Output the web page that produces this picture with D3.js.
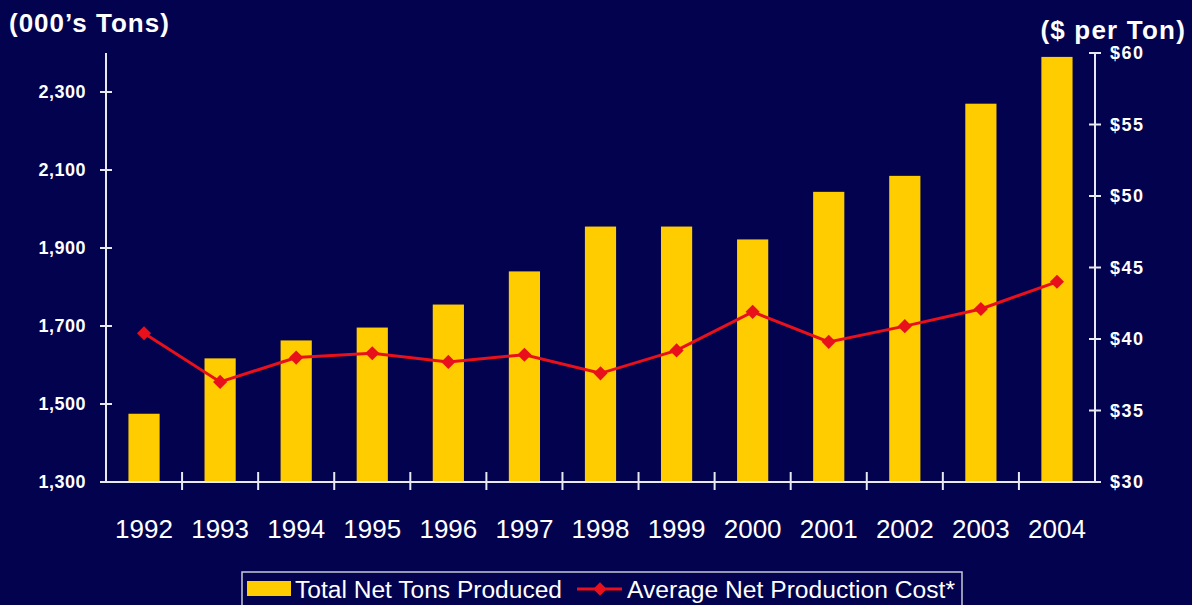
<!DOCTYPE html>
<html>
<head>
<meta charset="utf-8">
<script src="https://cdn.jsdelivr.net/npm/d3@7"></script>
<style>
  html, body { margin: 0; padding: 0; background: #02024f; }
  svg { display: block; }
  text { fill: #ffffff; font-family: Arial, "Liberation Sans", sans-serif; }
</style>
</head>
<body>
<svg id="chart" width="1192" height="605"></svg>
<script>
const years = ["1992", "1993", "1994", "1995", "1996", "1997", "1998", "1999", "2000", "2001", "2002", "2003", "2004"];
const tonsProduced = [1475, 1617, 1663, 1696, 1755, 1840, 1955, 1955, 1922, 2044, 2085, 2270, 2390];
const costPerTon = [40.4, 37.0, 38.7, 39.0, 38.4, 38.9, 37.6, 39.2, 41.9, 39.8, 40.9, 42.1, 44.0];
const leftTicks = [1300, 1500, 1700, 1900, 2100, 2300];
const rightTicks = [30, 35, 40, 45, 50, 55, 60];

const svg = d3.select("#chart");
const W = 1192, H = 605;
const plot = { left: 106, right: 1095, top: 53, bottom: 482 };

svg.append("rect").attr("width", W).attr("height", H).attr("fill", "#02024f");

const x = d3.scaleBand().domain(years).range([plot.left, plot.right]).paddingInner(0.59).paddingOuter(0.295);
const xBounds = d3.scaleLinear().domain([0, years.length]).range([plot.left, plot.right]);
const yLeft = d3.scaleLinear().domain([1300, 2400]).range([plot.bottom, plot.top]);
const yRight = d3.scaleLinear().domain([30, 60]).range([plot.bottom, plot.top]);

// bars
svg.append("g")
  .selectAll("rect")
  .data(years)
  .join("rect")
  .attr("x", (d) => x(d))
  .attr("width", x.bandwidth())
  .attr("y", (d, i) => yLeft(tonsProduced[i]))
  .attr("height", (d, i) => plot.bottom - yLeft(tonsProduced[i]))
  .attr("fill", "#ffcc00");

const axisColor = "#e8e8f0";

// left axis
const gl = svg.append("g");
gl.append("line").attr("x1", plot.left).attr("x2", plot.left).attr("y1", plot.top).attr("y2", plot.bottom)
  .attr("stroke", axisColor).attr("stroke-width", 2);
gl.selectAll(".t").data(leftTicks).join("line")
  .attr("x1", plot.left - 6).attr("x2", plot.left + 6)
  .attr("y1", (d) => yLeft(d)).attr("y2", (d) => yLeft(d))
  .attr("stroke", axisColor).attr("stroke-width", 2);
gl.selectAll("text").data(leftTicks).join("text")
  .attr("x", 86).attr("y", (d) => yLeft(d)).attr("dy", "0.36em")
  .attr("text-anchor", "end").attr("font-size", 18).attr("font-weight", "bold")
  .attr("letter-spacing", 0.5)
  .text((d) => d3.format(",")(d));

// right axis
const gr = svg.append("g");
gr.append("line").attr("x1", plot.right).attr("x2", plot.right).attr("y1", plot.top).attr("y2", plot.bottom)
  .attr("stroke", axisColor).attr("stroke-width", 2);
gr.selectAll(".t").data(rightTicks).join("line")
  .attr("x1", plot.right - 6).attr("x2", plot.right + 6)
  .attr("y1", (d) => yRight(d)).attr("y2", (d) => yRight(d))
  .attr("stroke", axisColor).attr("stroke-width", 2);
gr.selectAll("text").data(rightTicks).join("text")
  .attr("x", 1110).attr("y", (d) => yRight(d)).attr("dy", "0.36em")
  .attr("font-size", 18).attr("font-weight", "bold")
  .attr("letter-spacing", 1.5)
  .text((d) => "$" + d);

// x axis
const gx = svg.append("g");
gx.append("line").attr("x1", plot.left).attr("x2", plot.right).attr("y1", plot.bottom).attr("y2", plot.bottom)
  .attr("stroke", axisColor).attr("stroke-width", 2);
gx.selectAll(".t").data(d3.range(1, years.length)).join("line")
  .attr("x1", (d) => xBounds(d)).attr("x2", (d) => xBounds(d))
  .attr("y1", plot.bottom - 10).attr("y2", plot.bottom + 8)
  .attr("stroke", axisColor).attr("stroke-width", 2);
gx.selectAll("text").data(years).join("text")
  .attr("x", (d) => x(d) + x.bandwidth() / 2).attr("y", 538)
  .attr("text-anchor", "middle").attr("font-size", 26)
  .text((d) => d);

// cost line
const line = d3.line()
  .x((d, i) => x(years[i]) + x.bandwidth() / 2)
  .y((d) => yRight(d));
svg.append("path").datum(costPerTon)
  .attr("d", line).attr("fill", "none")
  .attr("stroke", "#e8101a").attr("stroke-width", 3);
svg.append("g").selectAll("path").data(costPerTon).join("path")
  .attr("d", d3.symbol(d3.symbolSquare, 100))
  .attr("transform", (d, i) => `translate(${x(years[i]) + x.bandwidth() / 2},${yRight(d)}) rotate(45)`)
  .attr("fill", "#e8101a");

// axis titles
svg.append("text").attr("x", 9).attr("y", 32).attr("font-size", 26).attr("font-weight", "bold")
  .attr("letter-spacing", 1)
  .text("(000\u2019s Tons)");
svg.append("text").attr("x", 1186).attr("y", 39).attr("text-anchor", "end")
  .attr("font-size", 26).attr("font-weight", "bold").attr("letter-spacing", 1.2)
  .text("($ per Ton)");

// legend
const lg = svg.append("g");
lg.append("rect").attr("x", 242).attr("y", 572).attr("width", 720).attr("height", 40)
  .attr("fill", "none").attr("stroke", "#c8c8d8").attr("stroke-width", 1.5);
lg.append("rect").attr("x", 247).attr("y", 581).attr("width", 44).attr("height", 15)
  .attr("fill", "#ffcc00");
lg.append("text").attr("x", 295).attr("y", 598).attr("font-size", 23)
  .attr("textLength", 267).attr("lengthAdjust", "spacingAndGlyphs")
  .text("Total Net Tons Produced");
lg.append("line").attr("x1", 577).attr("x2", 622).attr("y1", 589).attr("y2", 589)
  .attr("stroke", "#e8101a").attr("stroke-width", 3);
lg.append("path").attr("d", d3.symbol(d3.symbolSquare, 90))
  .attr("transform", "translate(600,589) rotate(45)").attr("fill", "#e8101a");
lg.append("text").attr("x", 627).attr("y", 598).attr("font-size", 23)
  .attr("textLength", 328).attr("lengthAdjust", "spacingAndGlyphs")
  .text("Average Net Production Cost*");
</script>
</body>
</html>
